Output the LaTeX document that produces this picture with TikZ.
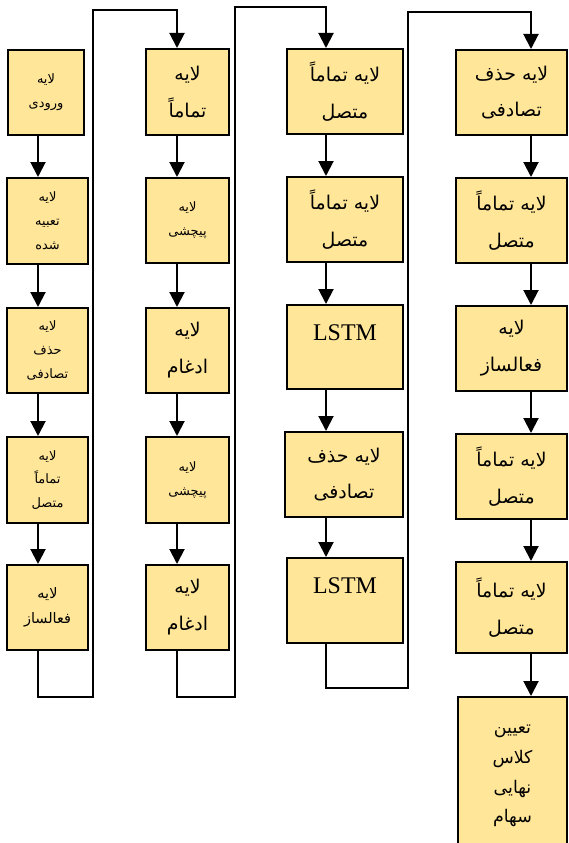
\documentclass[tikz,border=0pt]{standalone}
\usepackage{fontspec}
\usepackage{tikz}
\usetikzlibrary{arrows.meta}
\TeXXeTstate=1
\newfontfamily\arabicfont[Script=Arabic]{DejaVu Sans}
\newfontfamily\serifen{Liberation Serif}
\definecolor{boxfill}{RGB}{255,230,153}
\newcommand{\fa}[1]{\beginR #1\endR}
\tikzset{layer/.style={draw, line width=2bp, fill=boxfill, align=center, inner sep=2bp},
  smalltxt/.style={font=\arabicfont\fontsize{13}{24}\selectfont},
  midtxt/.style={font=\arabicfont\fontsize{14.5}{25}\selectfont},
  bigtxt/.style={font=\arabicfont\fontsize{19}{37}\selectfont},
  lasttxt/.style={font=\arabicfont\fontsize{17.5}{30}\selectfont},
  lstmtxt/.style={font=\serifen\fontsize{24}{25}\selectfont, text height=31bp, text depth=45bp},
  flow/.style={line width=2bp, -{Triangle[width=15bp,length=15bp]}}}

\begin{document}
\begin{tikzpicture}[x=1bp,y=-1bp,line join=miter]
\clip (0,0) rectangle (569,843);
\fill[white] (0,0) rectangle (569,843);
%% arrow columns
\coordinate (ax) at (38,0);
\coordinate (bx) at (177,0);
\coordinate (cx) at (326,0);
\coordinate (dx) at (531,0);
%% first column
  \node (a_1) at (46,92.5) [layer,smalltxt,minimum width=76bp,minimum height=85bp,line width=1.2bp] {\fa{لایه}\\\fa{ورودی}};
  \node (a_2) at (47.5,221) [layer,smalltxt,minimum width=81bp,minimum height=86bp] {\fa{لایه}\\\fa{تعبیه}\\\fa{شده}};
  \node (a_3) at (47.5,350.5) [layer,smalltxt,minimum width=81bp,minimum height=85bp] {\fa{لایه}\\\fa{حذف}\\\fa{تصادفی}};
  \node (a_4) at (47.5,480) [layer,smalltxt,minimum width=81bp,minimum height=86bp] {\fa{لایه}\\\fa{تماماً}\\\fa{متصل}};
  \node (a_5) at (47.5,607.5) [layer,midtxt,minimum width=81bp,minimum height=85bp] {\fa{لایه}\\\fa{فعالساز}};
%% second column
  \node (b_1) at (187.5,92) [layer,bigtxt,minimum width=83bp,minimum height=86bp] {\fa{لایه}\\\fa{تماماً}};
  \node (b_2) at (187.5,220.5) [layer,smalltxt,minimum width=83bp,minimum height=85bp] {\fa{لایه}\\\fa{پیچشی}};
  \node (b_3) at (187.5,350.5) [layer,bigtxt,minimum width=83bp,minimum height=85bp] {\fa{لایه}\\\fa{ادغام}};
  \node (b_4) at (187.5,480) [layer,smalltxt,minimum width=83bp,minimum height=86bp] {\fa{لایه}\\\fa{پیچشی}};
  \node (b_5) at (187.5,607.5) [layer,bigtxt,minimum width=83bp,minimum height=85bp] {\fa{لایه}\\\fa{ادغام}};
%% third column
  \node (c_1) at (345,91.5) [layer,bigtxt,minimum width=116bp,minimum height=85bp] {\fa{لایه تماماً}\\\fa{متصل}};
  \node (c_2) at (345,219.5) [layer,bigtxt,minimum width=116bp,minimum height=85bp] {\fa{لایه تماماً}\\\fa{متصل}};
  \node (c_3) at (345,347) [layer,lstmtxt,minimum width=116bp,minimum height=84bp] {LSTM};
  \node (c_4) at (344,474.5) [layer,bigtxt,minimum width=118bp,minimum height=85bp] {\fa{لایه حذف}\\\fa{تصادفی}};
  \node (c_5) at (345,600.5) [layer,lstmtxt,minimum width=116bp,minimum height=85bp] {LSTM};
%% fourth column
  \node (d_1) at (511.5,92.5) [layer,bigtxt,minimum width=111bp,minimum height=85bp] {\fa{لایه حذف}\\\fa{تصادفی}};
  \node (d_2) at (511.5,220.5) [layer,bigtxt,minimum width=111bp,minimum height=85bp] {\fa{لایه تماماً}\\\fa{متصل}};
  \node (d_3) at (511.5,348.5) [layer,bigtxt,minimum width=111bp,minimum height=85bp] {\fa{لایه}\\\fa{فعالساز}};
  \node (d_4) at (511.5,476.5) [layer,bigtxt,minimum width=111bp,minimum height=85bp] {\fa{لایه تماماً}\\\fa{متصل}};
  \node (d_5) at (511.5,607.5) [layer,bigtxt,minimum width=111bp,minimum height=91bp] {\fa{لایه تماماً}\\\fa{متصل}};
  \node (d_6) at (512.5,776) [layer,lasttxt,minimum width=109bp,minimum height=158bp] {\fa{تعیین}\\\fa{کلاس}\\\fa{نهایی}\\\fa{سهام}};
%% bends between columns
\coordinate (a_bend) at (93,697);
\coordinate (a_top) at (93,10);
\coordinate (b_bend) at (235,697);
\coordinate (b_top) at (235,7);
\coordinate (c_bend) at (408,688);
\coordinate (c_top) at (408,12);
%% arrows
  \draw [flow] (a_1.south -| ax) -- (a_2.north -| ax);
  \draw [flow] (a_2.south -| ax) -- (a_3.north -| ax);
  \draw [flow] (a_3.south -| ax) -- (a_4.north -| ax);
  \draw [flow] (a_4.south -| ax) -- (a_5.north -| ax);
  \draw [flow] (a_5.south -| ax) |- (a_bend) -- (a_top) -| (b_1.north -| bx);
  \draw [flow] (b_1.south -| bx) -- (b_2.north -| bx);
  \draw [flow] (b_2.south -| bx) -- (b_3.north -| bx);
  \draw [flow] (b_3.south -| bx) -- (b_4.north -| bx);
  \draw [flow] (b_4.south -| bx) -- (b_5.north -| bx);
  \draw [flow] (b_5.south -| bx) |- (b_bend) -- (b_top) -| (c_1.north -| cx);
  \draw [flow] (c_1.south -| cx) -- (c_2.north -| cx);
  \draw [flow] (c_2.south -| cx) -- (c_3.north -| cx);
  \draw [flow] (c_3.south -| cx) -- (c_4.north -| cx);
  \draw [flow] (c_4.south -| cx) -- (c_5.north -| cx);
  \draw [flow] (c_5.south -| cx) |- (c_bend) -- (c_top) -| (d_1.north -| dx);
  \draw [flow] (d_1.south -| dx) -- (d_2.north -| dx);
  \draw [flow] (d_2.south -| dx) -- (d_3.north -| dx);
  \draw [flow] (d_3.south -| dx) -- (d_4.north -| dx);
  \draw [flow] (d_4.south -| dx) -- (d_5.north -| dx);
  \draw [flow] (d_5.south -| dx) -- (d_6.north -| dx);
%
\end{tikzpicture}
\end{document}
